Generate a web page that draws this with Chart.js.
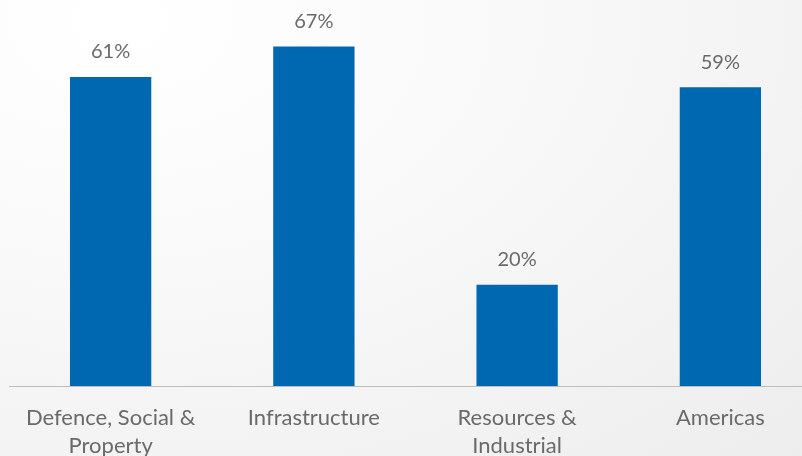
<!DOCTYPE html>
<html>
<head>
<meta charset="utf-8">
<script src="https://cdn.jsdelivr.net/npm/chart.js@4"></script>
<style>
  html, body { margin: 0; padding: 0; overflow: hidden; }
  body {
    width: 802px; height: 456px;
    background: radial-gradient(ellipse at 15% 5%, #ffffff 0%, #f9f9f9 40%, #ededed 100%);
  }
  #wrap { position: relative; width: 822px; height: 456px; }
</style>
</head>
<body>
<div id="wrap"><canvas id="chart"></canvas></div>
<script>
const categories = [
    ["Defence, Social &", "Property"],
    "Infrastructure",
    ["Resources &", "Industrial"],
    "Americas"
];
const shares = [61, 67, 20, 59];
const valueLabels = ["61%", "67%", "20%", "59%"];

const BAR_BLUE = "#0068b0";
const TEXT_GREY = "#6a6a6a";
const FONT = "Lato, 'Open Sans', sans-serif";

/* labels above bars */
const topLabels = {
    id: "topLabels",
    afterDatasetsDraw(chart) {
        const ctx = chart.ctx;
        const meta = chart.getDatasetMeta(0);
        ctx.save();
        ctx.font = "20px " + FONT;
        ctx.fillStyle = TEXT_GREY;
        ctx.textAlign = "center";
        ctx.textBaseline = "middle";
        meta.data.forEach((bar, i) => {
            ctx.fillText(valueLabels[i], bar.x, bar.y - 25);
        });
        ctx.restore();
    }
};

new Chart(document.getElementById("chart"), {
    type: "bar",
    data: {
        labels: categories,
        datasets: [{
            data: shares,
            backgroundColor: BAR_BLUE,
            barPercentage: 0.4,
            categoryPercentage: 1
        }]
    },
    options: {
        responsive: true,
        maintainAspectRatio: false,
        animation: false,
        layout: { padding: { left: 9, right: 0, top: 0, bottom: 0 } },
        plugins: {
            legend: { display: false },
            tooltip: { enabled: false }
        },
        scales: {
            x: {
                grid: { display: false, drawTicks: false },
                border: { display: true, color: "#bdbdbd", width: 1 },
                ticks: {
                    color: TEXT_GREY,
                    font: { family: FONT, size: 22, lineHeight: 1.27 },
                    padding: 18,
                    maxRotation: 0,
                    autoSkip: false
                },
                afterFit(scale) { scale.height = 70; }
            },
            y: {
                display: false,
                min: 0,
                max: 76.2
            }
        }
    },
    plugins: [topLabels]
});
</script>
</body>
</html>
